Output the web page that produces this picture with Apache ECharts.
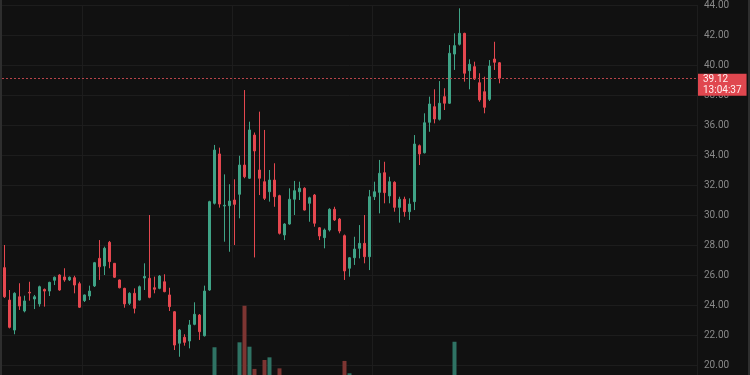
<!DOCTYPE html>
<html><head><meta charset="utf-8">
<script src="https://cdn.jsdelivr.net/npm/echarts@6/dist/echarts.min.js"></script>
<style>
html,body{margin:0;padding:0;background:#111111;overflow:hidden;}
#c{width:750px;height:375px;position:absolute;left:0;top:0;}
.edge{position:absolute;top:0;width:2px;height:375px;background:#2e2e2e;}
</style></head><body>
<div id="c"></div>
<div class="edge" style="left:0px"></div>
<div class="edge" style="left:748px"></div>
<script>
const opens=[26.49,24.33,22.33,24.55,23.6,24.85,24.4,24.07,25.04,24.93,25.65,26.0,25.87,25.67,25.82,25.42,24.29,24.6,25.27,27.11,26.6,28.18,26.78,25.67,25.11,24.11,24.78,24.33,25.8,25.78,25.15,25.11,25.55,24.67,23.55,21.45,21.85,21.6,22.71,23.33,21.95,25.0,30.78,34.07,30.6,30.62,31.0,31.38,33.33,32.45,35.33,33.0,32.22,31.55,32.33,31.29,28.67,29.4,31.05,31.55,31.78,30.78,31.33,29.15,28.49,29.0,30.38,29.73,28.62,26.45,27.15,27.78,28.11,27.22,31.22,31.51,32.82,31.27,32.18,30.51,31.05,30.22,30.89,34.62,34.15,36.18,37.22,36.38,37.89,37.45,40.73,41.38,42.11,39.62,39.89,38.82,38.22,37.71,40.4,40.15];
const closes=[24.55,22.51,24.78,23.93,24.27,24.8,24.55,25.22,24.93,25.51,25.85,25.0,25.67,25.85,25.33,23.85,24.67,24.93,26.82,26.55,27.78,26.89,25.85,25.15,24.07,24.78,23.78,25.22,25.9,24.51,25.05,25.93,24.89,23.89,21.33,22.33,21.51,22.67,23.38,22.22,24.93,30.89,34.33,30.73,30.65,30.93,30.71,33.33,32.55,35.67,34.27,32.45,31.11,32.33,31.22,28.78,29.4,31.05,31.62,31.78,30.33,31.15,29.45,28.6,29.0,30.38,29.67,28.93,26.27,27.15,27.73,28.11,27.22,31.22,31.55,32.78,31.49,32.22,30.51,31.05,30.22,30.73,34.73,34.07,36.15,37.4,36.4,37.45,37.45,40.78,41.29,42.11,39.45,40.05,39.07,37.67,37.18,39.93,40.18,39.12];
const highs=[28.0,25.0,24.85,25.45,24.62,25.55,24.67,25.29,25.1,25.55,25.9,26.05,26.45,25.9,25.95,25.55,24.7,25.29,26.87,28.33,27.89,28.27,26.8,25.7,25.15,24.85,25.11,25.3,26.78,30.0,25.89,26.0,26.05,25.15,23.6,22.4,22.05,23.0,24.18,23.4,25.29,30.95,34.67,34.49,32.71,32.05,32.38,33.95,38.33,36.22,35.5,36.89,35.67,33.0,33.45,31.35,29.45,31.78,32.27,32.22,31.85,31.22,31.4,29.2,29.1,30.45,30.55,29.8,28.7,27.2,28.55,29.33,30.0,31.67,32.22,33.67,33.55,32.55,32.25,31.22,31.22,31.11,35.33,34.7,36.78,37.89,38.38,38.93,38.45,41.33,42.11,43.78,42.15,40.38,40.22,39.45,39.22,40.33,41.55,40.2];
const lows=[24.47,22.44,22.05,23.67,23.51,24.29,23.73,23.89,23.89,24.6,25.33,24.95,25.55,25.6,24.78,23.8,24.2,24.33,25.2,25.67,26.0,26.45,25.8,25.11,23.82,24.0,23.44,24.3,25.0,24.45,24.78,25.05,24.85,23.6,21.0,20.55,21.29,21.11,22.65,21.67,21.9,24.95,30.7,30.49,28.22,27.55,28.0,29.78,32.45,32.4,27.17,31.33,31.0,30.89,30.55,28.7,28.33,29.35,30.0,31.0,30.3,29.55,29.22,28.33,27.78,28.9,29.6,28.78,25.67,25.89,26.67,27.11,26.78,26.33,31.0,30.11,30.78,30.78,30.22,29.49,29.89,29.67,30.33,33.33,34.1,35.55,36.11,36.3,37.0,37.4,39.67,41.3,38.89,38.38,39.0,37.55,36.78,37.6,39.67,38.78];
const volumes=[38,34,30,22,18,20,16,21,15,19,14,17,15,12,16,24,14,15,26,33,27,30,21,16,20,15,19,17,22,36,14,17,16,21,35,30,22,26,25,24,41,48,64.6,46,35,38,36,67.2,86.5,64.9,53.2,44,57.9,59.3,38,53.5,30,36,28,22,27,24,30,22,25,29,24,26,57.4,50.9,34,32,36,47,30,33,31,27,29,22,24,21,45,28,38,34,31,33,26,44,67.5,46,44,30,26,32,29,33,28,25];
const categoryCount=139;
const categories=Array.from({length:categoryCount},(_,i)=>String(i+1));
const yMin=18, yMax=44, yStep=2;
const lastPrice=39.12;
const countdown='13:04:37';
const vSplitIdx=[16,46,74];

const upColor='#3fa386', downColor='#e5474f';
const volUp='#2f7364', volDown='#7d3532';

const chart=echarts.init(document.getElementById('c'),null,{renderer:'canvas'});
const candleData=opens.map((o,i)=>[o,closes[i],lows[i],highs[i]]);
const volData=volumes.map((v,i)=>({value:v,itemStyle:{color:closes[i]>=opens[i]?volUp:volDown}}));
chart.setOption({
  backgroundColor:'#111111',
  animation:false,
  grid:[{left:2,right:53,top:5,bottom:-20,outerBoundsMode:'none',containLabel:false},
        {left:2,right:53,top:280,bottom:-95,outerBoundsMode:'none',containLabel:false}],
  xAxis:[
    {type:'category',gridIndex:0,data:categories,boundaryGap:true,
     axisLine:{show:false},axisTick:{show:false},axisLabel:{show:false},
     splitLine:{show:true,interval:(idx)=>vSplitIdx.indexOf(idx)>=0,lineStyle:{color:'#1d1d1d',width:1}}},
    {type:'category',gridIndex:1,data:categories,show:false}
  ],
  yAxis:[
    {type:'value',gridIndex:0,position:'right',min:yMin,max:yMax,interval:yStep,
     axisLine:{show:false},axisTick:{show:false},
     axisLabel:{color:'#8a8a8a',fontSize:10,fontFamily:'Roboto',margin:7,formatter:(v)=>v.toFixed(2)},
     splitLine:{show:true,lineStyle:{color:'#1d1d1d',width:1}}},
    {type:'value',gridIndex:1,min:0,max:100,show:false}
  ],
  series:[
    {type:'bar',xAxisIndex:1,yAxisIndex:1,data:volData,barWidth:4,z:1,silent:true},
    {type:'candlestick',xAxisIndex:0,yAxisIndex:0,data:candleData,barWidth:3,z:3,
     itemStyle:{color:upColor,color0:downColor,borderColor:upColor,borderColor0:downColor,borderWidth:1},
     markLine:{symbol:['none','none'],silent:true,animation:false,
       data:[{yAxis:lastPrice}],
       lineStyle:{color:'#b8444a',type:[2,2],width:1},
       label:{show:true,position:'end',distance:1,offset:[0,6.5],
         formatter:()=>lastPrice.toFixed(2)+'\n'+countdown,
         backgroundColor:'#e0474f',color:'#fff0f0',fontSize:10,fontFamily:'Roboto',
         lineHeight:11,padding:[0,5,0,5],align:'left'}}}
  ]
});
</script>
</body></html>
